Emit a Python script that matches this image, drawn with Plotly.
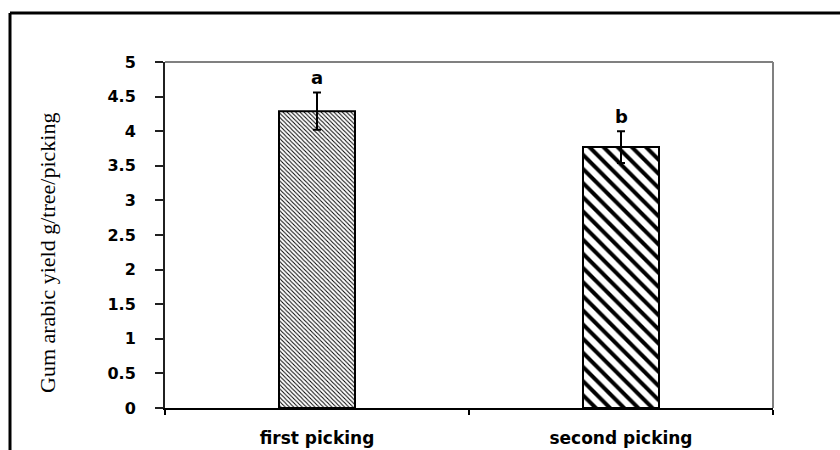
import plotly.graph_objects as go

# Gum arabic yield per tree per picking
categories = ["first picking", "second picking"]
yield_mean = [4.29, 3.77]
yield_err = [0.27, 0.23]
group_letters = ["a", "b"]
y_tick_vals = [0, 0.5, 1, 1.5, 2, 2.5, 3, 3.5, 4, 4.5, 5]
y_tick_text = ["0", "0.5", "1", "1.5", "2", "2.5", "3", "3.5", "4", "4.5", "5"]

W, H = 840, 450
ML, MR, MT, MB = 165, 67, 62, 42
pw, ph = W - ML - MR, H - MT - MB

patterns = [
    dict(shape="\\", size=3, solidity=0.33, fgcolor="#000000",
         bgcolor="#ffffff", fgopacity=1),
    dict(shape="\\", size=10, solidity=0.40, fgcolor="#000000",
         bgcolor="#ffffff", fgopacity=1),
]

fig = go.Figure()
for i, cat in enumerate(categories):
    fig.add_trace(go.Bar(
        x=[cat], y=[yield_mean[i]], width=0.25,
        marker=dict(color="#ffffff", pattern=patterns[i],
                    line=dict(color="#000000", width=2)),
        error_y=dict(type="data", array=[yield_err[i]], color="#000000",
                     thickness=2, width=4),
        showlegend=False,
    ))
    fig.add_annotation(
        x=cat, y=yield_mean[i] + yield_err[i], text=group_letters[i],
        showarrow=False, yanchor="bottom", yshift=2,
        font=dict(family="DejaVu Sans", size=18, color="#000000", weight="bold"),
    )

# y-axis title, set in a serif face
fig.add_annotation(
    xref="paper", yref="paper", x=(47 - ML) / pw, y=(H - MB - 253) / ph,
    text="Gum arabic yield g/tree/picking", textangle=-90, showarrow=False,
    xanchor="center", yanchor="middle",
    font=dict(family="Liberation Serif", size=22, color="#000000"),
)

# grey frame on top and right of the plotting area
fig.add_shape(type="line", xref="paper", yref="paper", x0=0, x1=1, y0=1, y1=1,
              line=dict(color="#808080", width=2))
fig.add_shape(type="line", xref="paper", yref="paper", x0=1, x1=1, y0=0, y1=1,
              line=dict(color="#808080", width=2))

# outer black border of the figure
top_y = (H - MB - 13) / ph
left_x = (10 - ML) / pw
fig.add_shape(type="line", xref="paper", yref="paper", x0=left_x, x1=1.3,
              y0=top_y, y1=top_y, line=dict(color="#000000", width=3))
fig.add_shape(type="line", xref="paper", yref="paper", x0=left_x, x1=left_x,
              y0=-0.3, y1=top_y, line=dict(color="#000000", width=3))

fig.update_layout(
    width=W, height=H,
    margin=dict(l=ML, r=MR, t=MT, b=MB),
    paper_bgcolor="#ffffff", plot_bgcolor="#ffffff",
    bargap=0.75,
)
fig.update_xaxes(
    type="category", range=[-0.5, 1.5], automargin=False,
    showline=True, linecolor="#000000", linewidth=2,
    ticks="outside", tickson="boundaries", ticklen=5, tickwidth=2,
    tickcolor="#000000", showgrid=False, zeroline=False,
    ticklabelstandoff=14,
    tickfont=dict(family="DejaVu Sans", size=17, color="#000000", weight="bold"),
)
fig.update_yaxes(
    range=[0, 5], tickvals=y_tick_vals, ticktext=y_tick_text, automargin=False,
    showline=True, linecolor="#202020", linewidth=2,
    ticks="outside", ticklen=8, tickwidth=2, tickcolor="#202020",
    showgrid=False, zeroline=False, ticklabelstandoff=16,
    tickfont=dict(family="DejaVu Sans", size=16, color="#000000", weight="bold"),
)

fig.write_html("out.html")
